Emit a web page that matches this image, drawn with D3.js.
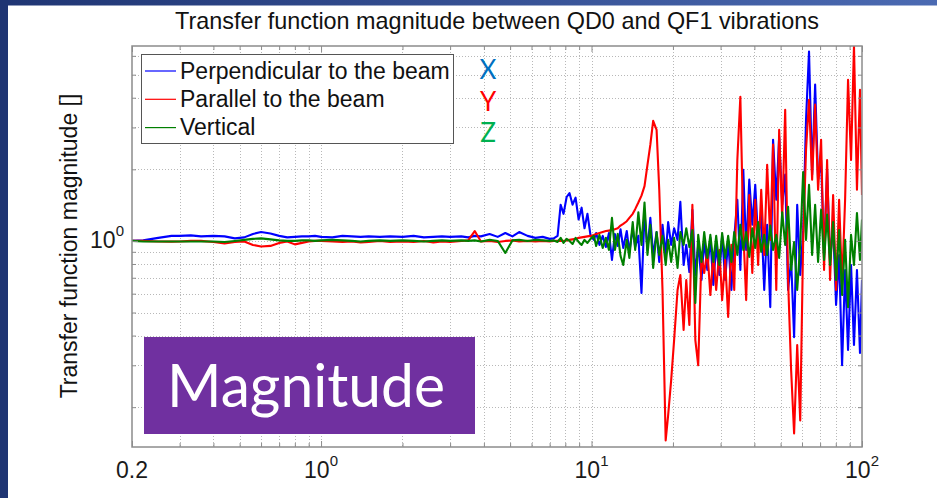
<!DOCTYPE html>
<html lang="en">
<head>
<meta charset="UTF-8">
<title>Transfer function magnitude</title>
<style>
  html, body { margin: 0; padding: 0; background: #fff; }
  svg { display: block; font-family: "Liberation Sans", Arial, sans-serif; }
</style>
</head>
<body>
<script src="https://cdn.jsdelivr.net/npm/d3@7"></script>
<script>

// frequency axis (Hz), shared by the three measurements
const freq = [
  0.2, 0.22, 0.25, 0.28, 0.3, 0.33, 0.36, 0.4, 0.44, 0.48,
  0.52, 0.56, 0.6, 0.65, 0.7, 0.75, 0.8, 0.85, 0.9, 0.95,
  1.0, 1.1, 1.2, 1.3, 1.4, 1.5, 1.65, 1.8, 2.0, 2.2,
  2.4, 2.6, 2.8, 3.0, 3.3, 3.5, 3.7, 3.9, 4.2, 4.5,
  4.8, 5.1, 5.4, 5.8, 6.2, 6.6, 7.0, 7.25,
  7.49, 7.69, 7.88, 8.09, 8.29, 8.51, 8.73, 8.96, 9.19, 9.42, 9.66, 9.92,
  10.2, 10.4, 10.7, 11.0, 11.3, 11.6, 11.9, 12.2, 12.5, 12.8, 13.1, 13.5, 13.8, 14.2, 14.5, 14.9,
  15.3, 15.7, 16.1, 16.5, 16.9, 17.4, 17.8, 18.3, 18.8, 19.2, 19.7, 20.2, 20.8, 21.3,
  21.9, 22.4, 23.0, 23.6, 24.2, 24.8, 25.5, 26.1, 26.8, 27.5, 28.2, 28.9, 29.7, 30.4, 31.2, 32.0, 32.9, 33.7,
  34.6, 35.5, 36.4, 37.3, 38.3, 39.3, 40.3, 41.3, 42.4, 43.5, 44.6, 45.8, 46.9, 48.2, 49.4, 50.7, 52.0, 53.3, 54.7, 56.1, 57.6, 59.1,
  60.6, 62.1, 63.7, 65.4, 67.1, 68.8, 70.6, 72.4, 74.3, 76.2, 78.2, 80.2, 82.3, 84.4, 86.6, 88.8, 91.1, 93.4, 95.8, 98.3,
  100
];

// X : perpendicular to the beam
const perpendicular = [
  1.00, 1.005, 1.03, 1.05, 1.05, 1.055, 1.045, 1.05, 1.045, 1.025,
  1.035, 1.07, 1.09, 1.075, 1.05, 1.035, 1.04, 1.045, 1.045, 1.05,
  1.04, 1.035, 1.05, 1.045, 1.04, 1.045, 1.04, 1.045, 1.04, 1.05,
  1.035, 1.04, 1.045, 1.04, 1.045, 1.035, 1.05, 1.045, 1.07, 1.04,
  1.08, 1.045, 1.09, 1.05, 1.03, 1.04, 1.02, 1.025,
  1.05, 1.42, 1.30, 1.53, 1.59, 1.42, 1.52, 1.23, 1.38, 1.13, 1.30, 1.05,
  1.01, 1.08, 0.962, 1.05, 0.943, 1.08, 0.832, 1.07, 0.952, 1.12, 0.934, 1.10, 0.899, 1.13, 0.943, 1.05,
  0.604, 1.31, 0.916, 1.25, 0.865, 1.09, 0.816, 1.17, 0.873, 1.20, 0.962, 1.13, 1.01, 1.46,
  0.792, 0.962, 0.740, 1.35, 0.719, 0.962, 0.685, 1.01, 0.755, 1.03, 0.653, 0.962, 0.719, 1.05, 0.685, 1.01, 0.622, 1.03,
  1.49, 0.755, 1.99, 0.916, 1.81, 1.17, 1.72, 1.01, 1.29, 0.622, 1.17, 0.527, 2.66, 1.49, 2.74, 1.42, 1.90, 0.622, 0.832, 0.394, 1.42, 0.719,
  1.11, 3.23, 6.25, 1.90, 4.54, 1.81, 2.19, 0.873, 1.99, 0.832, 1.17, 0.538, 0.873, 0.300, 0.755, 0.348, 0.792, 0.365, 0.755, 0.338,
  0.685
];

// Y : parallel to the beam
const parallel = [
  1.00, 1.00, 0.995, 0.993, 0.995, 1.00, 1.00, 0.99, 0.976, 0.99,
  0.995, 0.962, 0.948, 0.953, 0.981, 0.995, 0.967, 0.981, 0.995, 1.00,
  1.00, 0.995, 0.99, 0.995, 0.986, 0.99, 1.00, 0.99, 0.995, 0.99,
  1.00, 0.986, 0.995, 0.99, 1.00, 1.005, 1.10, 0.995, 1.00, 0.99,
  1.00, 1.005, 0.995, 1.00, 0.995, 1.00, 0.995, 1.00,
  1.00, 1.00, 1.00, 1.005, 1.01, 1.015, 1.02, 1.03, 1.035, 1.04, 1.045, 1.05,
  1.06, 1.07, 1.08, 1.09, 1.10, 1.105, 1.11, 1.12, 1.13, 1.16, 1.18, 1.21, 1.25, 1.30, 1.36, 1.45,
  1.55, 1.70, 2.09, 2.54, 3.20, 2.93, 1.64, 0.622, 0.145, 0.185, 0.260, 0.383, 0.622, 0.719,
  0.422, 0.685, 0.443, 1.42, 0.383, 0.300, 0.873, 0.733, 0.916, 0.592, 0.873, 0.622, 0.916, 0.564, 0.832, 0.479, 0.962, 0.622,
  2.19, 4.04, 1.11, 0.564, 1.56, 0.733, 1.49, 0.792, 1.64, 0.873, 2.09, 1.01, 2.54, 0.622, 2.93, 1.23, 3.56, 0.685, 0.286, 0.155, 0.365, 0.176,
  1.01, 2.42, 3.92, 1.81, 3.74, 1.64, 2.66, 0.755, 2.19, 0.685, 1.56, 0.622, 1.49, 0.653, 1.49, 4.76, 2.19, 6.62, 1.64, 4.32,
  1.56
];

// Z : vertical
const vertical = [
  1.00, 0.995, 0.995, 0.995, 0.995, 0.995, 0.995, 0.995, 0.99, 1.00,
  1.01, 1.02, 1.025, 1.015, 1.005, 1.00, 1.00, 1.005, 1.005, 1.00,
  1.005, 1.01, 1.005, 1.00, 0.995, 1.00, 1.005, 1.00, 1.005, 1.00,
  0.995, 1.00, 1.005, 1.00, 1.005, 1.00, 1.005, 0.995, 1.01, 1.00,
  0.89, 1.005, 1.01, 1.00, 1.01, 1.005, 1.00, 1.005,
  0.99, 1.03, 0.981, 1.02, 1.00, 0.971, 1.03, 0.99, 0.962, 1.01, 0.981, 1.02,
  1.05, 0.952, 1.06, 0.934, 1.03, 0.916, 1.25, 0.916, 1.07, 0.865, 0.792, 1.01, 0.848, 1.20, 0.916, 1.32,
  0.962, 1.45, 0.873, 1.17, 0.770, 1.09, 0.873, 1.05, 0.792, 1.01, 0.816, 1.03, 0.770, 1.09,
  0.962, 1.13, 0.943, 1.11, 0.548, 1.06, 0.816, 1.09, 0.848, 1.06, 0.816, 1.05, 0.792, 1.08, 0.848, 1.05, 0.816, 1.09,
  0.873, 1.17, 0.916, 1.09, 0.856, 1.13, 0.934, 1.20, 0.899, 1.06, 0.873, 1.16, 0.916, 1.06, 0.848, 1.32, 0.962, 1.39, 0.755, 0.99, 0.622, 0.962,
  1.95, 1.01, 1.72, 0.873, 1.42, 0.816, 1.35, 0.832, 1.29, 0.792, 1.20, 0.685, 1.11, 0.592, 1.01, 0.527, 1.06, 0.792, 1.31, 0.832,
  1.23
];

const seriesNames = ['Perpendicular to the beam', 'Parallel to the beam', 'Vertical'];
const seriesLetters = ['X', 'Y', 'Z'];

const xTicks = [0.2, 1, 10, 100];
const xTickLabels = [['0.2', ''], ['10', '0'], ['10', '1'], ['10', '2']];
const xMinor = [0.3, 0.4, 0.5, 0.6, 0.7, 0.8, 0.9, 2, 3, 4, 5, 6, 7, 8, 9, 20, 30, 40, 50, 60, 70, 80, 90];
const yTicks = [1];
const yTickLabels = [['10', '0']];
const yMinor = [0.2, 0.3, 0.4, 0.5, 0.6, 0.7, 0.8, 0.9, 2, 3, 4, 5, 6];

const width = 937;
const height = 498;
const plot = { left: 132, right: 862, top: 46, bottom: 447 };

const lineColors = ['#0000ff', '#ff0000', '#007f00'];
const letterColors = ['#0070c0', '#ff0000', '#00b050'];

const svg = d3.select('body')
  .append('svg')
  .attr('width', width)
  .attr('height', height);

// slide frame
const defs = svg.append('defs');
const band = defs.append('linearGradient').attr('id', 'band');
band.append('stop').attr('offset', '0%').attr('stop-color', '#1f3573');
band.append('stop').attr('offset', '100%').attr('stop-color', '#4b6ab2');
defs.append('clipPath').attr('id', 'plotclip')
  .append('rect')
  .attr('x', plot.left).attr('y', plot.top)
  .attr('width', plot.right - plot.left).attr('height', plot.bottom - plot.top);

svg.append('rect').attr('width', width).attr('height', height).attr('fill', '#ffffff');
svg.append('rect').attr('width', width).attr('height', 5.5).attr('fill', 'url(#band)');
svg.append('rect').attr('width', 8).attr('height', height).attr('fill', '#1f3573');

const x = d3.scaleLog().domain([0.2, 100]).range([plot.left, plot.right]);
const y = d3.scaleLog().domain([0.136, 6.6]).range([plot.bottom, plot.top]);

// dotted grid
const grid = svg.append('g')
  .attr('stroke', '#b8b8b8')
  .attr('stroke-width', 1)
  .attr('stroke-dasharray', '1,2');
grid.selectAll('line.gx')
  .data(xMinor.concat([1, 10]))
  .join('line')
  .attr('x1', d => Math.round(x(d)) + 0.5)
  .attr('x2', d => Math.round(x(d)) + 0.5)
  .attr('y1', plot.top)
  .attr('y2', plot.bottom);
grid.selectAll('line.gy')
  .data(yMinor.concat(yTicks))
  .join('line')
  .attr('y1', d => Math.round(y(d)) + 0.5)
  .attr('y2', d => Math.round(y(d)) + 0.5)
  .attr('x1', plot.left)
  .attr('x2', plot.right);

// curves
const line = d3.line()
  .x((d, i) => x(freq[i]))
  .y(d => y(d));

svg.append('g')
  .attr('clip-path', 'url(#plotclip)')
  .selectAll('path')
  .data([perpendicular, parallel, vertical])
  .join('path')
  .attr('d', line)
  .attr('fill', 'none')
  .attr('stroke', (d, i) => lineColors[i])
  .attr('stroke-width', 2.1)
  .attr('stroke-linejoin', 'round');

// axes box and inward ticks
const tickColor = '#8c8c8c';
function ticks(axis, values, size, transform) {
  const g = svg.append('g')
    .attr('transform', transform)
    .call(axis.tickValues(values).tickSize(size).tickFormat(''));
  g.select('.domain').remove();
  g.selectAll('line').attr('stroke', tickColor);
}
ticks(d3.axisBottom(x), xTicks, -6, `translate(0,${plot.bottom})`);
ticks(d3.axisBottom(x), xMinor, -4, `translate(0,${plot.bottom})`);
ticks(d3.axisTop(x), xTicks, -6, `translate(0,${plot.top})`);
ticks(d3.axisTop(x), xMinor, -4, `translate(0,${plot.top})`);
ticks(d3.axisLeft(y), yTicks, -6, `translate(${plot.left},0)`);
ticks(d3.axisLeft(y), yMinor, -4, `translate(${plot.left},0)`);
ticks(d3.axisRight(y), yTicks, -6, `translate(${plot.right},0)`);
ticks(d3.axisRight(y), yMinor, -4, `translate(${plot.right},0)`);

svg.append('rect')
  .attr('x', plot.left).attr('y', plot.top)
  .attr('width', plot.right - plot.left).attr('height', plot.bottom - plot.top)
  .attr('fill', 'none')
  .attr('stroke', tickColor)
  .attr('stroke-width', 1.5);

// tick labels
const xl = svg.append('g').attr('font-size', 23).attr('fill', '#1a1a1a').attr('text-anchor', 'middle');
xTicks.forEach((v, i) => {
  const t = xl.append('text').attr('x', x(v)).attr('y', 478);
  t.append('tspan').text(xTickLabels[i][0]);
  if (xTickLabels[i][1]) {
    t.append('tspan').attr('font-size', 15).attr('dy', -12).text(xTickLabels[i][1]);
  }
});
const yl = svg.append('g').attr('font-size', 23).attr('fill', '#1a1a1a').attr('text-anchor', 'end');
yTicks.forEach((v, i) => {
  const t = yl.append('text').attr('x', 124).attr('y', y(v) + 7);
  t.append('tspan').text(yTickLabels[i][0]);
  t.append('tspan').attr('font-size', 15).attr('dy', -12).text(yTickLabels[i][1]);
});

// title and y label
svg.append('text')
  .attr('x', (plot.left + plot.right) / 2)
  .attr('y', 29)
  .attr('text-anchor', 'middle')
  .attr('font-size', 23.4)
  .attr('fill', '#111')
  .text('Transfer function magnitude between QD0 and QF1 vibrations');

svg.append('text')
  .attr('transform', 'translate(77,246) rotate(-90)')
  .attr('text-anchor', 'middle')
  .attr('font-size', 23)
  .attr('fill', '#111')
  .text('Transfer function magnitude []');

// legend
const legend = svg.append('g');
legend.append('rect')
  .attr('x', 141.5).attr('y', 54.5)
  .attr('width', 312).attr('height', 89)
  .attr('fill', '#fff')
  .attr('stroke', '#555')
  .attr('stroke-width', 1);
seriesNames.forEach((name, i) => {
  const cy = 71 + i * 28.3;
  legend.append('line')
    .attr('x1', 145).attr('x2', 176)
    .attr('y1', cy).attr('y2', cy)
    .attr('stroke', lineColors[i])
    .attr('stroke-width', 1.2);
  legend.append('text')
    .attr('x', 180).attr('y', cy + 7.5)
    .attr('font-size', 23)
    .attr('fill', '#111')
    .text(name);
});

// slide annotations: X, Y, Z stacked next to the legend
seriesLetters.forEach((s, i) => {
  svg.append('text')
    .attr('x', 488).attr('y', 79 + i * 31.5)
    .attr('text-anchor', 'middle')
    .attr('font-family', 'Lato, "Open Sans", sans-serif')
    .attr('font-size', 26)
    .attr('fill', letterColors[i])
    .text(s);
});

svg.append('rect')
  .attr('x', 144).attr('y', 337)
  .attr('width', 331).attr('height', 97)
  .attr('fill', '#7030a0');
svg.append('text')
  .attr('x', 167).attr('y', 407)
  .attr('font-family', 'Lato, "Open Sans", sans-serif')
  .attr('font-size', 60)
  .attr('fill', '#ffffff')
  .attr('textLength', 278)
  .attr('lengthAdjust', 'spacingAndGlyphs')
  .text('Magnitude');

</script>
</body>
</html>
